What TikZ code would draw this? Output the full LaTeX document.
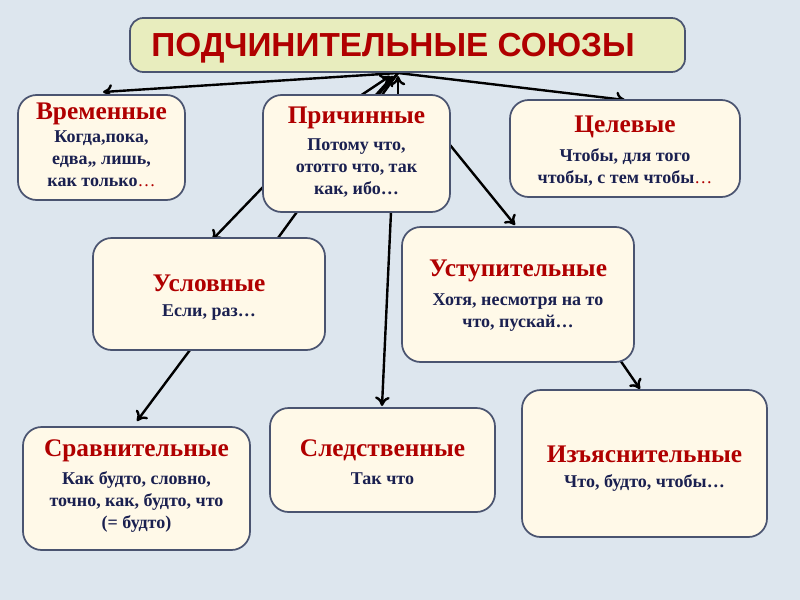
\documentclass[tikz,border=0pt]{standalone}
\usepackage{fontspec}
\setmainfont{Liberation Serif}
\newfontfamily\ttl{Liberation Sans}
\usetikzlibrary{arrows.meta}
\definecolor{bg}{HTML}{DDE6EE}
\definecolor{boxf}{HTML}{FFF9E8}
\definecolor{ttlf}{HTML}{E8EDBE}
\definecolor{bord}{HTML}{4A5470}
\definecolor{hred}{HTML}{B00000}
\definecolor{navy}{HTML}{1A2050}
\tikzset{
 bx/.style={draw=bord,line width=1.3pt,fill=boxf,rounded corners=14pt},
 hd/.style={text=hred,font=\bfseries\fontsize{19}{21}\selectfont},
 bd/.style={text=navy,font=\bfseries\fontsize{13.5}{16.5}\selectfont,align=center},
 ar/.style={line width=1.8pt,-{To[length=7pt,width=11pt]}},
 ln/.style={line width=1.8pt}
}
\begin{document}
\begin{tikzpicture}[x=0.75pt,y=-0.75pt]
\fill[bg] (0,0) rectangle (800,600);
\useasboundingbox (0,0) rectangle (800,600);
% connectors behind boxes
\coordinate (T) at (398,73);
\draw[ln] (278,238) -- (T);
\draw[ln] (355,120) -- (T);
\draw[ar] (T) -- (103,92);
\draw[ar] (T) -- (625,100);
\draw[ar] (360,96) -- (390,76);
\draw[ar] (375,96) -- (393,76);
\draw[ar] (398,96) -- (398,76);
\draw[ar] (450,145) -- (515,225);
\draw[ar] (391,212) -- (382,406);
\draw[ar] (264,186) -- (212,240);
\draw[ar] (190,350) -- (137,421);
\draw[ar] (620,360) -- (640,389);
% title
\node[draw=bord,line width=1.3pt,fill=ttlf,rounded corners=10pt,minimum width=555*0.75pt,minimum height=54*0.75pt] (title) at (407.5,45) {};
\node[text=hred,font=\ttl\bfseries\fontsize{25}{28}\selectfont] (tt) at (393,48) {ПОДЧИНИТЕЛЬНЫЕ СОЮЗЫ};
% boxes
\draw[bx] (18,95) rectangle (185,200);
\node[hd] (h1) at (101.5,114) {Временные};
\node[bd] (b1) at (101.5,159) {Когда,пока,\\едва,, лишь,\\как только\textcolor{hred}{\mdseries…}};
\draw[bx] (263,95) rectangle (450,212);
\node[hd] (h2) at (356.5,118) {Причинные};
\node[bd] (b2) at (356.5,168) {Потому что,\\ототго что, так\\как, ибо…};
\draw[bx] (510,100) rectangle (740,197);
\node[hd] (h3) at (625,127) {Целевые};
\node[bd] (b3) at (625,167) {Чтобы, для того\\чтобы, с тем чтобы\textcolor{hred}{\mdseries…}};
\draw[bx] (93,238) rectangle (325,350);
\node[hd] (h4) at (209,283) {Условные};
\node[bd] (b4) at (209,313) {Если, раз…};
\draw[bx] (402,227) rectangle (634,362);
\node[hd] (h5) at (518,271) {Уступительные};
\node[bd] (b5) at (518,313) {Хотя, несмотря на то\\что, пускай…};
\draw[bx] (23,427) rectangle (250,550);
\node[hd] (h6) at (136.5,451) {Сравнительные};
\node[bd] (b6) at (136.5,502) {Как будто, словно,\\точно, как, будто, что\\(= будто)};
\draw[bx] (270,408) rectangle (495,512);
\node[hd] (h7) at (382.5,450) {Следственные};
\node[bd] (b7) at (382.5,479) {Так что};
\draw[bx] (522,390) rectangle (767,537);
\node[hd] (h8) at (644.5,454) {Изъяснительные};
\node[bd] (b8) at (644.5,483) {Что, будто, чтобы…};
\end{tikzpicture}
\end{document}
